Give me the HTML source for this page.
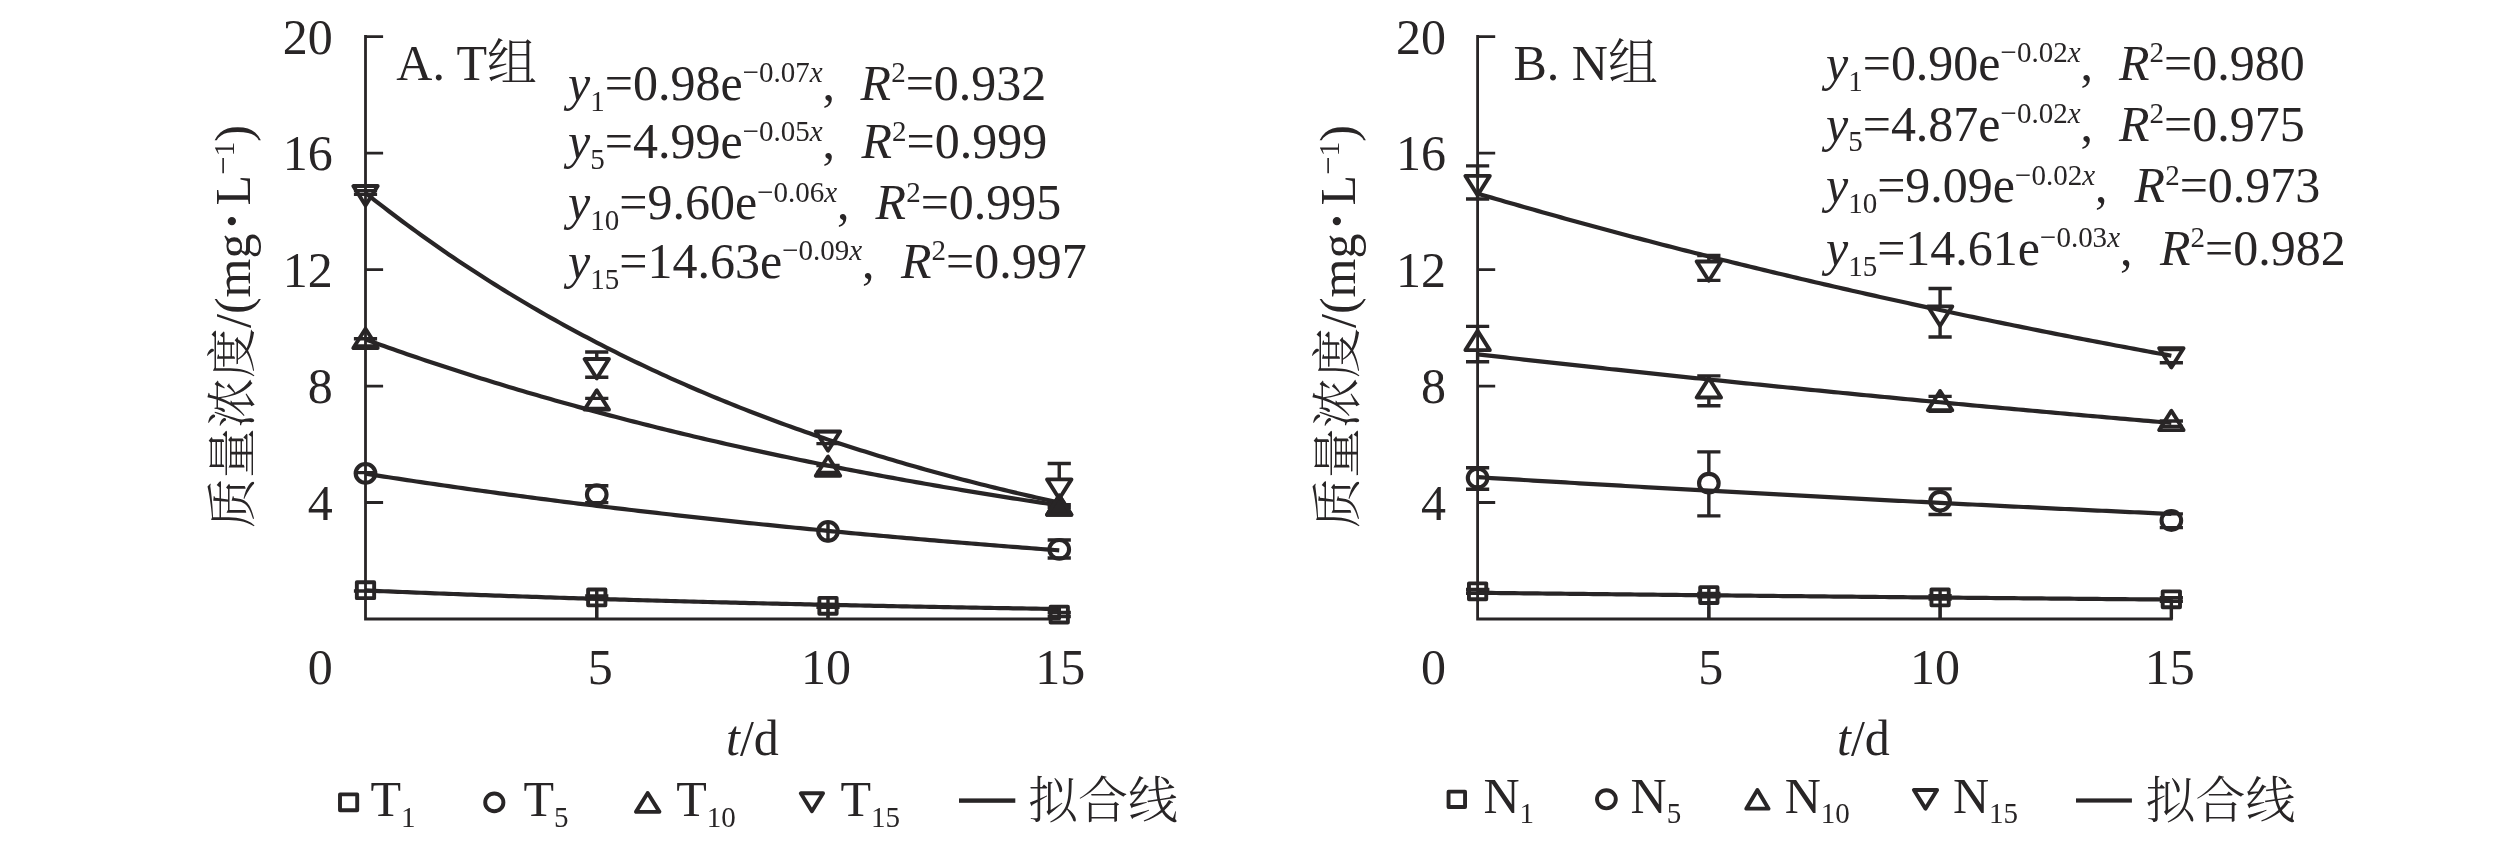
<!DOCTYPE html>
<html><head><meta charset="utf-8"><style>
html,body{margin:0;padding:0;background:#fff;}
svg{display:block;will-change:transform;}
text{font-family:'Liberation Serif','Times New Roman',serif;font-size:50px;fill:#282526;}
</style></head><body>
<svg width="2520" height="842" viewBox="0 0 2520 842">
<rect width="2520" height="842" fill="#fff"/>
<path d="M365.50,36.5V619.0H1059.25" fill="none" stroke="#282526" stroke-width="2.8" stroke-linejoin="miter" stroke-linecap="square"/><path d="M365.50,36.60H383.10M365.50,153.08H383.10M365.50,269.56H383.10M365.50,386.04H383.10M365.50,502.52H383.10M596.75,619.0V607.00M828.00,619.0V607.00M1059.25,619.0V607.00" fill="none" stroke="#282526" stroke-width="2.8"/><polyline points="365.50,590.46 370.12,590.66 374.75,590.86 379.38,591.06 384.00,591.25 388.62,591.44 393.25,591.64 397.88,591.83 402.50,592.02 407.12,592.20 411.75,592.39 416.38,592.58 421.00,592.76 425.62,592.94 430.25,593.13 434.88,593.31 439.50,593.49 444.12,593.66 448.75,593.84 453.38,594.02 458.00,594.19 462.62,594.36 467.25,594.54 471.88,594.71 476.50,594.88 481.12,595.04 485.75,595.21 490.38,595.38 495.00,595.54 499.62,595.71 504.25,595.87 508.88,596.03 513.50,596.19 518.12,596.35 522.75,596.51 527.38,596.66 532.00,596.82 536.62,596.97 541.25,597.13 545.88,597.28 550.50,597.43 555.12,597.58 559.75,597.73 564.38,597.88 569.00,598.03 573.62,598.17 578.25,598.32 582.88,598.46 587.50,598.61 592.12,598.75 596.75,598.89 601.38,599.03 606.00,599.17 610.62,599.31 615.25,599.45 619.88,599.58 624.50,599.72 629.12,599.85 633.75,599.99 638.38,600.12 643.00,600.25 647.62,600.38 652.25,600.51 656.88,600.64 661.50,600.77 666.12,600.89 670.75,601.02 675.38,601.15 680.00,601.27 684.62,601.39 689.25,601.52 693.88,601.64 698.50,601.76 703.12,601.88 707.75,602.00 712.38,602.12 717.00,602.24 721.62,602.35 726.25,602.47 730.88,602.58 735.50,602.70 740.12,602.81 744.75,602.93 749.38,603.04 754.00,603.15 758.62,603.26 763.25,603.37 767.88,603.48 772.50,603.59 777.12,603.69 781.75,603.80 786.38,603.91 791.00,604.01 795.62,604.12 800.25,604.22 804.88,604.32 809.50,604.43 814.12,604.53 818.75,604.63 823.38,604.73 828.00,604.83 832.62,604.93 837.25,605.03 841.88,605.12 846.50,605.22 851.12,605.32 855.75,605.41 860.38,605.51 865.00,605.60 869.62,605.69 874.25,605.79 878.88,605.88 883.50,605.97 888.12,606.06 892.75,606.15 897.38,606.24 902.00,606.33 906.62,606.42 911.25,606.51 915.88,606.59 920.50,606.68 925.12,606.77 929.75,606.85 934.38,606.94 939.00,607.02 943.62,607.10 948.25,607.19 952.88,607.27 957.50,607.35 962.12,607.43 966.75,607.51 971.38,607.59 976.00,607.67 980.62,607.75 985.25,607.83 989.88,607.91 994.50,607.99 999.12,608.06 1003.75,608.14 1008.38,608.21 1013.00,608.29 1017.62,608.36 1022.25,608.44 1026.88,608.51 1031.50,608.59 1036.12,608.66 1040.75,608.73 1045.38,608.80 1050.00,608.87 1054.62,608.94 1059.25,609.01" fill="none" stroke="#282526" stroke-width="4.2" stroke-linejoin="round"/><polyline points="365.50,473.69 370.12,474.42 374.75,475.14 379.38,475.85 384.00,476.57 388.62,477.28 393.25,477.99 397.88,478.69 402.50,479.39 407.12,480.09 411.75,480.78 416.38,481.47 421.00,482.15 425.62,482.84 430.25,483.51 434.88,484.19 439.50,484.86 444.12,485.53 448.75,486.20 453.38,486.86 458.00,487.52 462.62,488.17 467.25,488.83 471.88,489.48 476.50,490.12 481.12,490.77 485.75,491.41 490.38,492.04 495.00,492.67 499.62,493.30 504.25,493.93 508.88,494.56 513.50,495.18 518.12,495.79 522.75,496.41 527.38,497.02 532.00,497.63 536.62,498.23 541.25,498.84 545.88,499.43 550.50,500.03 555.12,500.62 559.75,501.21 564.38,501.80 569.00,502.39 573.62,502.97 578.25,503.55 582.88,504.12 587.50,504.70 592.12,505.27 596.75,505.83 601.38,506.40 606.00,506.96 610.62,507.52 615.25,508.07 619.88,508.63 624.50,509.18 629.12,509.73 633.75,510.27 638.38,510.81 643.00,511.35 647.62,511.89 652.25,512.42 656.88,512.96 661.50,513.48 666.12,514.01 670.75,514.53 675.38,515.06 680.00,515.57 684.62,516.09 689.25,516.60 693.88,517.11 698.50,517.62 703.12,518.13 707.75,518.63 712.38,519.13 717.00,519.63 721.62,520.12 726.25,520.62 730.88,521.11 735.50,521.60 740.12,522.08 744.75,522.57 749.38,523.05 754.00,523.53 758.62,524.00 763.25,524.48 767.88,524.95 772.50,525.42 777.12,525.88 781.75,526.35 786.38,526.81 791.00,527.27 795.62,527.73 800.25,528.18 804.88,528.63 809.50,529.09 814.12,529.53 818.75,529.98 823.38,530.42 828.00,530.87 832.62,531.31 837.25,531.74 841.88,532.18 846.50,532.61 851.12,533.04 855.75,533.47 860.38,533.90 865.00,534.32 869.62,534.74 874.25,535.16 878.88,535.58 883.50,536.00 888.12,536.41 892.75,536.82 897.38,537.23 902.00,537.64 906.62,538.05 911.25,538.45 915.88,538.85 920.50,539.25 925.12,539.65 929.75,540.05 934.38,540.44 939.00,540.83 943.62,541.22 948.25,541.61 952.88,542.00 957.50,542.38 962.12,542.76 966.75,543.14 971.38,543.52 976.00,543.90 980.62,544.27 985.25,544.64 989.88,545.02 994.50,545.38 999.12,545.75 1003.75,546.12 1008.38,546.48 1013.00,546.84 1017.62,547.20 1022.25,547.56 1026.88,547.92 1031.50,548.27 1036.12,548.62 1040.75,548.97 1045.38,549.32 1050.00,549.67 1054.62,550.02 1059.25,550.36" fill="none" stroke="#282526" stroke-width="4.2" stroke-linejoin="round"/><polyline points="365.50,339.45 370.12,341.12 374.75,342.78 379.38,344.43 384.00,346.08 388.62,347.71 393.25,349.33 397.88,350.95 402.50,352.55 407.12,354.14 411.75,355.73 416.38,357.30 421.00,358.87 425.62,360.42 430.25,361.97 434.88,363.51 439.50,365.04 444.12,366.56 448.75,368.07 453.38,369.57 458.00,371.06 462.62,372.54 467.25,374.02 471.88,375.48 476.50,376.94 481.12,378.39 485.75,379.83 490.38,381.26 495.00,382.68 499.62,384.09 504.25,385.50 508.88,386.90 513.50,388.28 518.12,389.66 522.75,391.04 527.38,392.40 532.00,393.76 536.62,395.10 541.25,396.44 545.88,397.77 550.50,399.10 555.12,400.41 559.75,401.72 564.38,403.02 569.00,404.31 573.62,405.60 578.25,406.87 582.88,408.14 587.50,409.40 592.12,410.66 596.75,411.90 601.38,413.14 606.00,414.37 610.62,415.60 615.25,416.81 619.88,418.02 624.50,419.23 629.12,420.42 633.75,421.61 638.38,422.79 643.00,423.96 647.62,425.13 652.25,426.29 656.88,427.44 661.50,428.59 666.12,429.73 670.75,430.86 675.38,431.99 680.00,433.10 684.62,434.22 689.25,435.32 693.88,436.42 698.50,437.51 703.12,438.60 707.75,439.68 712.38,440.75 717.00,441.82 721.62,442.88 726.25,443.93 730.88,444.98 735.50,446.02 740.12,447.05 744.75,448.08 749.38,449.10 754.00,450.12 758.62,451.13 763.25,452.13 767.88,453.13 772.50,454.12 777.12,455.11 781.75,456.09 786.38,457.07 791.00,458.03 795.62,459.00 800.25,459.95 804.88,460.91 809.50,461.85 814.12,462.79 818.75,463.73 823.38,464.66 828.00,465.58 832.62,466.50 837.25,467.41 841.88,468.32 846.50,469.22 851.12,470.11 855.75,471.00 860.38,471.89 865.00,472.77 869.62,473.64 874.25,474.51 878.88,475.38 883.50,476.24 888.12,477.09 892.75,477.94 897.38,478.78 902.00,479.62 906.62,480.46 911.25,481.28 915.88,482.11 920.50,482.93 925.12,483.74 929.75,484.55 934.38,485.35 939.00,486.15 943.62,486.95 948.25,487.74 952.88,488.52 957.50,489.30 962.12,490.08 966.75,490.85 971.38,491.62 976.00,492.38 980.62,493.14 985.25,493.89 989.88,494.64 994.50,495.38 999.12,496.12 1003.75,496.86 1008.38,497.59 1013.00,498.31 1017.62,499.04 1022.25,499.75 1026.88,500.47 1031.50,501.18 1036.12,501.88 1040.75,502.58 1045.38,503.28 1050.00,503.97 1054.62,504.66 1059.25,505.34" fill="none" stroke="#282526" stroke-width="4.2" stroke-linejoin="round"/><polyline points="365.50,192.97 370.12,196.64 374.75,200.28 379.38,203.89 384.00,207.46 388.62,211.01 393.25,214.52 397.88,218.00 402.50,221.46 407.12,224.88 411.75,228.28 416.38,231.64 421.00,234.98 425.62,238.29 430.25,241.56 434.88,244.82 439.50,248.04 444.12,251.23 448.75,254.40 453.38,257.54 458.00,260.65 462.62,263.74 467.25,266.80 471.88,269.83 476.50,272.84 481.12,275.82 485.75,278.78 490.38,281.71 495.00,284.61 499.62,287.49 504.25,290.35 508.88,293.18 513.50,295.98 518.12,298.77 522.75,301.52 527.38,304.26 532.00,306.97 536.62,309.66 541.25,312.32 545.88,314.96 550.50,317.58 555.12,320.18 559.75,322.75 564.38,325.30 569.00,327.83 573.62,330.34 578.25,332.83 582.88,335.29 587.50,337.73 592.12,340.16 596.75,342.56 601.38,344.94 606.00,347.30 610.62,349.64 615.25,351.96 619.88,354.26 624.50,356.54 629.12,358.80 633.75,361.04 638.38,363.26 643.00,365.47 647.62,367.65 652.25,369.81 656.88,371.96 661.50,374.09 666.12,376.20 670.75,378.29 675.38,380.36 680.00,382.42 684.62,384.45 689.25,386.47 693.88,388.48 698.50,390.46 703.12,392.43 707.75,394.38 712.38,396.32 717.00,398.23 721.62,400.14 726.25,402.02 730.88,403.89 735.50,405.74 740.12,407.58 744.75,409.40 749.38,411.21 754.00,413.00 758.62,414.77 763.25,416.53 767.88,418.27 772.50,420.00 777.12,421.71 781.75,423.41 786.38,425.10 791.00,426.77 795.62,428.42 800.25,430.07 804.88,431.69 809.50,433.31 814.12,434.91 818.75,436.49 823.38,438.06 828.00,439.62 832.62,441.17 837.25,442.70 841.88,444.22 846.50,445.72 851.12,447.21 855.75,448.69 860.38,450.16 865.00,451.61 869.62,453.06 874.25,454.49 878.88,455.90 883.50,457.31 888.12,458.70 892.75,460.08 897.38,461.45 902.00,462.81 906.62,464.15 911.25,465.48 915.88,466.81 920.50,468.12 925.12,469.42 929.75,470.71 934.38,471.98 939.00,473.25 943.62,474.50 948.25,475.75 952.88,476.98 957.50,478.21 962.12,479.42 966.75,480.62 971.38,481.81 976.00,482.99 980.62,484.17 985.25,485.33 989.88,486.48 994.50,487.62 999.12,488.75 1003.75,489.87 1008.38,490.98 1013.00,492.09 1017.62,493.18 1022.25,494.26 1026.88,495.34 1031.50,496.40 1036.12,497.46 1040.75,498.51 1045.38,499.54 1050.00,500.57 1054.62,501.59 1059.25,502.60" fill="none" stroke="#282526" stroke-width="4.2" stroke-linejoin="round"/><g fill="none" stroke="#282526" stroke-width="3.4"><path d="M596.75,596.00V598.80M585.15,596.00H608.35M585.15,598.80H608.35"/><path d="M828.00,604.40V607.20M816.40,604.40H839.60M816.40,607.20H839.60"/><path d="M1059.25,612.50V616.50M1047.65,612.50H1070.85M1047.65,616.50H1070.85"/><path d="M353.90,472.60H377.10M353.90,472.60H377.10"/><path d="M585.15,485.80H608.35M585.15,502.60H608.35"/><path d="M1059.25,540.00V540.05M1047.65,540.00H1070.85M1047.65,558.00H1070.85"/><path d="M353.90,338.80H377.10M353.90,346.00H377.10"/><path d="M585.15,398.40H608.35M585.15,408.40H608.35"/><path d="M816.40,465.50H839.60M816.40,472.50H839.60"/><path d="M1047.65,504.60H1070.85M1047.65,512.00H1070.85"/><path d="M353.90,190.60H377.10M353.90,194.40H377.10"/><path d="M596.75,352.00V359.07M585.15,352.00H608.35M585.15,377.30H608.35"/><path d="M816.40,431.80H839.60M816.40,443.60H839.60"/><path d="M1059.25,463.50V479.37M1059.25,498.67V507.50M1047.65,463.50H1070.85M1047.65,507.50H1070.85"/></g><g fill="none" stroke="#282526" stroke-width="3.9" stroke-linejoin="round"><rect x="356.85" y="582.25" width="17.3" height="15.9"/><rect x="588.10" y="589.45" width="17.3" height="15.9"/><rect x="819.35" y="597.85" width="17.3" height="15.9"/><rect x="1050.60" y="606.65" width="17.3" height="15.9"/><ellipse cx="365.50" cy="473.40" rx="9.8" ry="9.35" stroke-width="4.1"/><ellipse cx="596.75" cy="494.60" rx="9.8" ry="9.35" stroke-width="4.1"/><ellipse cx="828.00" cy="531.30" rx="9.8" ry="9.35" stroke-width="4.1"/><ellipse cx="1059.25" cy="549.40" rx="9.8" ry="9.35" stroke-width="4.1"/><path d="M353.30,348.03L377.70,348.03L365.50,328.73Z"/><path d="M584.55,409.63L608.95,409.63L596.75,390.33Z"/><path d="M815.80,475.83L840.20,475.83L828.00,456.53Z"/><path d="M1047.05,514.73L1071.45,514.73L1059.25,495.43Z"/><path d="M353.30,186.07L377.70,186.07L365.50,205.37Z"/><path d="M584.55,359.07L608.95,359.07L596.75,378.37Z"/><path d="M815.80,431.37L840.20,431.37L828.00,450.67Z"/><path d="M1047.05,479.37L1071.45,479.37L1059.25,498.67Z"/></g><path d="M1047.05,514.73L1071.45,514.73L1059.25,495.43Z" fill="#282526" stroke="#282526" stroke-width="3.9" stroke-linejoin="round"/><path d="M596.75,587.95V619.0M828.00,596.85V619.0M1059.25,605.65V619.0M353.90,591.00H377.10M828.00,521.95V542.15" stroke="#282526" stroke-width="3.4" fill="none"/><text x="332.80" y="53.90" text-anchor="end" transform="matrix(1,0,0,1.02,0,-1.078)">20</text><text x="332.80" y="170.38" text-anchor="end" transform="matrix(1,0,0,1.02,0,-3.408)">16</text><text x="332.80" y="286.86" text-anchor="end" transform="matrix(1,0,0,1.02,0,-5.737)">12</text><text x="332.80" y="403.34" text-anchor="end" transform="matrix(1,0,0,1.02,0,-8.067)">8</text><text x="332.80" y="519.82" text-anchor="end" transform="matrix(1,0,0,1.02,0,-10.396)">4</text><text x="332.80" y="684.3" text-anchor="end" transform="matrix(1,0,0,1.02,0,-13.686)">0</text><text x="600.25" y="684.3" text-anchor="middle" transform="matrix(1,0,0,1.02,0,-13.686)">5</text><text x="826.00" y="684.3" text-anchor="middle" transform="matrix(1,0,0,1.02,0,-13.686)">10</text><text x="1060.25" y="684.3" text-anchor="middle" transform="matrix(1,0,0,1.02,0,-13.686)">15</text><text x="396.30" y="80.2" style="font-family:'Liberation Serif','Noto Serif CJK SC',serif;font-weight:300">A. T组</text><text x="568.10" y="100.00" transform="matrix(1,0,0,1.03,0,-3.000)"><tspan font-style="italic">y</tspan><tspan font-size="29" dy="10.5">1</tspan><tspan dy="-10.5">=0.98e</tspan><tspan font-size="29" dy="-17">−0.07<tspan font-style="italic">x</tspan></tspan><tspan dy="17">,</tspan></text><text x="860.60" y="100.00" transform="matrix(1,0,0,1.03,0,-3.000)"><tspan font-style="italic">R</tspan><tspan font-size="29" dy="-17">2</tspan><tspan dy="17">=0.932</tspan></text><text x="568.10" y="158.30" transform="matrix(1,0,0,1.03,0,-4.749)"><tspan font-style="italic">y</tspan><tspan font-size="29" dy="10.5">5</tspan><tspan dy="-10.5">=4.99e</tspan><tspan font-size="29" dy="-17">−0.05<tspan font-style="italic">x</tspan></tspan><tspan dy="17">,</tspan></text><text x="861.40" y="158.30" transform="matrix(1,0,0,1.03,0,-4.749)"><tspan font-style="italic">R</tspan><tspan font-size="29" dy="-17">2</tspan><tspan dy="17">=0.999</tspan></text><text x="568.10" y="219.10" transform="matrix(1,0,0,1.03,0,-6.573)"><tspan font-style="italic">y</tspan><tspan font-size="29" dy="10.5">10</tspan><tspan dy="-10.5">=9.60e</tspan><tspan font-size="29" dy="-17">−0.06<tspan font-style="italic">x</tspan></tspan><tspan dy="17">,</tspan></text><text x="875.60" y="219.10" transform="matrix(1,0,0,1.03,0,-6.573)"><tspan font-style="italic">R</tspan><tspan font-size="29" dy="-17">2</tspan><tspan dy="17">=0.995</tspan></text><text x="568.10" y="278.00" transform="matrix(1,0,0,1.03,0,-8.340)"><tspan font-style="italic">y</tspan><tspan font-size="29" dy="10.5">15</tspan><tspan dy="-10.5">=14.63e</tspan><tspan font-size="29" dy="-17">−0.09<tspan font-style="italic">x</tspan></tspan><tspan dy="17">,</tspan></text><text x="901.00" y="278.00" transform="matrix(1,0,0,1.03,0,-8.340)"><tspan font-style="italic">R</tspan><tspan font-size="29" dy="-17">2</tspan><tspan dy="17">=0.997</tspan></text><text x="726.00" y="755.3"><tspan font-style="italic">t</tspan>/d</text><text transform="translate(249.9,528.0) rotate(-90)" x="0" y="0" style="font-family:'Liberation Serif','Noto Serif CJK SC',serif;font-weight:300">质量浓度/(mg<tspan dx="0.8" font-family="Liberation Serif" font-size="70" dy="5.5">·</tspan><tspan dx="4.0" dy="-5.5">L</tspan><tspan dy="-16" font-size="33">−</tspan><tspan font-size="29">1</tspan><tspan dy="16">)</tspan></text><g fill="none" stroke="#282526" stroke-width="3.9" stroke-linejoin="round"><rect x="340.00" y="794.40" width="17.20" height="15.80"/></g><text x="370.40" y="816.20">T<tspan font-size="29" dy="10.5">1</tspan></text><g fill="none" stroke="#282526" stroke-width="3.9" stroke-linejoin="round"><ellipse cx="494.30" cy="802.40" rx="9.10" ry="8.85"/></g><text x="523.50" y="816.20">T<tspan font-size="29" dy="10.5">5</tspan></text><g fill="none" stroke="#282526" stroke-width="3.9" stroke-linejoin="round"><path d="M635.95,811.85L659.45,811.85L647.70,792.95Z"/></g><text x="676.30" y="816.20">T<tspan font-size="29" dy="10.5">10</tspan></text><g fill="none" stroke="#282526" stroke-width="3.9" stroke-linejoin="round"><path d="M800.75,793.30L823.05,793.30L811.90,811.30Z"/></g><text x="840.40" y="816.20">T<tspan font-size="29" dy="10.5">15</tspan></text><rect x="959" y="798.4" width="56.3" height="4.4" fill="#282526"/><text x="1028" y="817.5" style="font-family:'Liberation Serif','Noto Serif CJK SC',serif;font-weight:300">拟合线</text><path d="M1477.60,36.5V619.0H2171.35" fill="none" stroke="#282526" stroke-width="2.8" stroke-linejoin="miter" stroke-linecap="square"/><path d="M1477.60,36.60H1495.20M1477.60,153.08H1495.20M1477.60,269.56H1495.20M1477.60,386.04H1495.20M1477.60,502.52H1495.20M1708.85,619.0V607.00M1940.10,619.0V607.00M2171.35,619.0V607.00" fill="none" stroke="#282526" stroke-width="2.8"/><polyline points="1477.60,592.79 1482.22,592.84 1486.85,592.90 1491.47,592.95 1496.10,593.00 1500.72,593.05 1505.35,593.10 1509.97,593.16 1514.60,593.21 1519.22,593.26 1523.85,593.31 1528.47,593.36 1533.10,593.41 1537.72,593.46 1542.35,593.52 1546.97,593.57 1551.60,593.62 1556.22,593.67 1560.85,593.72 1565.47,593.77 1570.10,593.82 1574.72,593.87 1579.35,593.92 1583.97,593.97 1588.60,594.02 1593.22,594.07 1597.85,594.12 1602.47,594.17 1607.10,594.22 1611.72,594.27 1616.35,594.32 1620.97,594.37 1625.60,594.42 1630.22,594.47 1634.85,594.51 1639.47,594.56 1644.10,594.61 1648.72,594.66 1653.35,594.71 1657.97,594.76 1662.60,594.81 1667.22,594.86 1671.85,594.90 1676.47,594.95 1681.10,595.00 1685.72,595.05 1690.35,595.10 1694.97,595.14 1699.60,595.19 1704.22,595.24 1708.85,595.29 1713.47,595.33 1718.10,595.38 1722.72,595.43 1727.35,595.47 1731.97,595.52 1736.60,595.57 1741.22,595.62 1745.85,595.66 1750.47,595.71 1755.10,595.76 1759.72,595.80 1764.35,595.85 1768.97,595.89 1773.60,595.94 1778.22,595.99 1782.85,596.03 1787.47,596.08 1792.10,596.12 1796.72,596.17 1801.35,596.22 1805.97,596.26 1810.60,596.31 1815.22,596.35 1819.85,596.40 1824.47,596.44 1829.10,596.49 1833.72,596.53 1838.35,596.58 1842.97,596.62 1847.60,596.67 1852.22,596.71 1856.85,596.76 1861.47,596.80 1866.10,596.84 1870.72,596.89 1875.35,596.93 1879.97,596.98 1884.60,597.02 1889.22,597.07 1893.85,597.11 1898.47,597.15 1903.10,597.20 1907.72,597.24 1912.35,597.28 1916.97,597.33 1921.60,597.37 1926.22,597.41 1930.85,597.46 1935.47,597.50 1940.10,597.54 1944.72,597.59 1949.35,597.63 1953.97,597.67 1958.60,597.71 1963.22,597.76 1967.85,597.80 1972.47,597.84 1977.10,597.88 1981.72,597.93 1986.35,597.97 1990.97,598.01 1995.60,598.05 2000.22,598.09 2004.85,598.14 2009.47,598.18 2014.10,598.22 2018.72,598.26 2023.35,598.30 2027.97,598.34 2032.60,598.38 2037.22,598.43 2041.85,598.47 2046.47,598.51 2051.10,598.55 2055.72,598.59 2060.35,598.63 2064.97,598.67 2069.60,598.71 2074.22,598.75 2078.85,598.79 2083.47,598.83 2088.10,598.87 2092.72,598.91 2097.35,598.95 2101.97,598.99 2106.60,599.03 2111.22,599.07 2115.85,599.11 2120.47,599.15 2125.10,599.19 2129.72,599.23 2134.35,599.27 2138.97,599.31 2143.60,599.35 2148.22,599.39 2152.85,599.43 2157.47,599.47 2162.10,599.51 2166.72,599.55 2171.35,599.58" fill="none" stroke="#282526" stroke-width="4.2" stroke-linejoin="round"/><polyline points="1477.60,477.19 1482.22,477.47 1486.85,477.75 1491.47,478.03 1496.10,478.32 1500.72,478.60 1505.35,478.88 1509.97,479.16 1514.60,479.44 1519.22,479.72 1523.85,479.99 1528.47,480.27 1533.10,480.55 1537.72,480.83 1542.35,481.10 1546.97,481.38 1551.60,481.65 1556.22,481.93 1560.85,482.20 1565.47,482.47 1570.10,482.75 1574.72,483.02 1579.35,483.29 1583.97,483.56 1588.60,483.83 1593.22,484.10 1597.85,484.37 1602.47,484.64 1607.10,484.91 1611.72,485.18 1616.35,485.44 1620.97,485.71 1625.60,485.98 1630.22,486.24 1634.85,486.51 1639.47,486.77 1644.10,487.04 1648.72,487.30 1653.35,487.56 1657.97,487.83 1662.60,488.09 1667.22,488.35 1671.85,488.61 1676.47,488.87 1681.10,489.13 1685.72,489.39 1690.35,489.65 1694.97,489.91 1699.60,490.17 1704.22,490.42 1708.85,490.68 1713.47,490.94 1718.10,491.19 1722.72,491.45 1727.35,491.70 1731.97,491.96 1736.60,492.21 1741.22,492.46 1745.85,492.72 1750.47,492.97 1755.10,493.22 1759.72,493.47 1764.35,493.72 1768.97,493.97 1773.60,494.22 1778.22,494.47 1782.85,494.72 1787.47,494.97 1792.10,495.22 1796.72,495.47 1801.35,495.71 1805.97,495.96 1810.60,496.20 1815.22,496.45 1819.85,496.69 1824.47,496.94 1829.10,497.18 1833.72,497.43 1838.35,497.67 1842.97,497.91 1847.60,498.15 1852.22,498.40 1856.85,498.64 1861.47,498.88 1866.10,499.12 1870.72,499.36 1875.35,499.60 1879.97,499.83 1884.60,500.07 1889.22,500.31 1893.85,500.55 1898.47,500.78 1903.10,501.02 1907.72,501.26 1912.35,501.49 1916.97,501.73 1921.60,501.96 1926.22,502.19 1930.85,502.43 1935.47,502.66 1940.10,502.89 1944.72,503.12 1949.35,503.36 1953.97,503.59 1958.60,503.82 1963.22,504.05 1967.85,504.28 1972.47,504.51 1977.10,504.74 1981.72,504.96 1986.35,505.19 1990.97,505.42 1995.60,505.65 2000.22,505.87 2004.85,506.10 2009.47,506.32 2014.10,506.55 2018.72,506.77 2023.35,507.00 2027.97,507.22 2032.60,507.44 2037.22,507.67 2041.85,507.89 2046.47,508.11 2051.10,508.33 2055.72,508.55 2060.35,508.78 2064.97,509.00 2069.60,509.22 2074.22,509.43 2078.85,509.65 2083.47,509.87 2088.10,510.09 2092.72,510.31 2097.35,510.53 2101.97,510.74 2106.60,510.96 2111.22,511.17 2115.85,511.39 2120.47,511.60 2125.10,511.82 2129.72,512.03 2134.35,512.25 2138.97,512.46 2143.60,512.67 2148.22,512.89 2152.85,513.10 2157.47,513.31 2162.10,513.52 2166.72,513.73 2171.35,513.94" fill="none" stroke="#282526" stroke-width="4.2" stroke-linejoin="round"/><polyline points="1477.60,354.30 1482.22,354.83 1486.85,355.36 1491.47,355.88 1496.10,356.41 1500.72,356.93 1505.35,357.46 1509.97,357.98 1514.60,358.50 1519.22,359.02 1523.85,359.54 1528.47,360.06 1533.10,360.58 1537.72,361.09 1542.35,361.61 1546.97,362.12 1551.60,362.64 1556.22,363.15 1560.85,363.66 1565.47,364.17 1570.10,364.68 1574.72,365.19 1579.35,365.69 1583.97,366.20 1588.60,366.70 1593.22,367.21 1597.85,367.71 1602.47,368.21 1607.10,368.72 1611.72,369.22 1616.35,369.71 1620.97,370.21 1625.60,370.71 1630.22,371.21 1634.85,371.70 1639.47,372.19 1644.10,372.69 1648.72,373.18 1653.35,373.67 1657.97,374.16 1662.60,374.65 1667.22,375.14 1671.85,375.63 1676.47,376.11 1681.10,376.60 1685.72,377.08 1690.35,377.57 1694.97,378.05 1699.60,378.53 1704.22,379.01 1708.85,379.49 1713.47,379.97 1718.10,380.44 1722.72,380.92 1727.35,381.40 1731.97,381.87 1736.60,382.35 1741.22,382.82 1745.85,383.29 1750.47,383.76 1755.10,384.23 1759.72,384.70 1764.35,385.17 1768.97,385.64 1773.60,386.10 1778.22,386.57 1782.85,387.03 1787.47,387.50 1792.10,387.96 1796.72,388.42 1801.35,388.88 1805.97,389.34 1810.60,389.80 1815.22,390.26 1819.85,390.71 1824.47,391.17 1829.10,391.63 1833.72,392.08 1838.35,392.53 1842.97,392.99 1847.60,393.44 1852.22,393.89 1856.85,394.34 1861.47,394.79 1866.10,395.23 1870.72,395.68 1875.35,396.13 1879.97,396.57 1884.60,397.02 1889.22,397.46 1893.85,397.90 1898.47,398.35 1903.10,398.79 1907.72,399.23 1912.35,399.67 1916.97,400.10 1921.60,400.54 1926.22,400.98 1930.85,401.41 1935.47,401.85 1940.10,402.28 1944.72,402.71 1949.35,403.15 1953.97,403.58 1958.60,404.01 1963.22,404.44 1967.85,404.87 1972.47,405.29 1977.10,405.72 1981.72,406.15 1986.35,406.57 1990.97,407.00 1995.60,407.42 2000.22,407.84 2004.85,408.27 2009.47,408.69 2014.10,409.11 2018.72,409.53 2023.35,409.94 2027.97,410.36 2032.60,410.78 2037.22,411.20 2041.85,411.61 2046.47,412.02 2051.10,412.44 2055.72,412.85 2060.35,413.26 2064.97,413.67 2069.60,414.08 2074.22,414.49 2078.85,414.90 2083.47,415.31 2088.10,415.72 2092.72,416.12 2097.35,416.53 2101.97,416.93 2106.60,417.34 2111.22,417.74 2115.85,418.14 2120.47,418.54 2125.10,418.94 2129.72,419.34 2134.35,419.74 2138.97,420.14 2143.60,420.54 2148.22,420.93 2152.85,421.33 2157.47,421.72 2162.10,422.12 2166.72,422.51 2171.35,422.90" fill="none" stroke="#282526" stroke-width="4.2" stroke-linejoin="round"/><polyline points="1477.60,193.56 1482.22,194.92 1486.85,196.27 1491.47,197.62 1496.10,198.97 1500.72,200.31 1505.35,201.65 1509.97,202.98 1514.60,204.31 1519.22,205.63 1523.85,206.96 1528.47,208.27 1533.10,209.58 1537.72,210.89 1542.35,212.20 1546.97,213.50 1551.60,214.79 1556.22,216.08 1560.85,217.37 1565.47,218.65 1570.10,219.93 1574.72,221.21 1579.35,222.48 1583.97,223.74 1588.60,225.01 1593.22,226.27 1597.85,227.52 1602.47,228.77 1607.10,230.02 1611.72,231.26 1616.35,232.50 1620.97,233.73 1625.60,234.97 1630.22,236.19 1634.85,237.42 1639.47,238.63 1644.10,239.85 1648.72,241.06 1653.35,242.27 1657.97,243.47 1662.60,244.67 1667.22,245.87 1671.85,247.06 1676.47,248.25 1681.10,249.43 1685.72,250.61 1690.35,251.79 1694.97,252.96 1699.60,254.13 1704.22,255.30 1708.85,256.46 1713.47,257.62 1718.10,258.77 1722.72,259.92 1727.35,261.07 1731.97,262.22 1736.60,263.36 1741.22,264.49 1745.85,265.62 1750.47,266.75 1755.10,267.88 1759.72,269.00 1764.35,270.12 1768.97,271.23 1773.60,272.34 1778.22,273.45 1782.85,274.56 1787.47,275.66 1792.10,276.75 1796.72,277.85 1801.35,278.94 1805.97,280.02 1810.60,281.11 1815.22,282.19 1819.85,283.26 1824.47,284.33 1829.10,285.40 1833.72,286.47 1838.35,287.53 1842.97,288.59 1847.60,289.65 1852.22,290.70 1856.85,291.75 1861.47,292.79 1866.10,293.84 1870.72,294.87 1875.35,295.91 1879.97,296.94 1884.60,297.97 1889.22,299.00 1893.85,300.02 1898.47,301.04 1903.10,302.05 1907.72,303.07 1912.35,304.08 1916.97,305.08 1921.60,306.09 1926.22,307.08 1930.85,308.08 1935.47,309.07 1940.10,310.06 1944.72,311.05 1949.35,312.04 1953.97,313.02 1958.60,313.99 1963.22,314.97 1967.85,315.94 1972.47,316.91 1977.10,317.87 1981.72,318.84 1986.35,319.79 1990.97,320.75 1995.60,321.70 2000.22,322.65 2004.85,323.60 2009.47,324.54 2014.10,325.48 2018.72,326.42 2023.35,327.36 2027.97,328.29 2032.60,329.22 2037.22,330.14 2041.85,331.07 2046.47,331.99 2051.10,332.90 2055.72,333.82 2060.35,334.73 2064.97,335.64 2069.60,336.54 2074.22,337.44 2078.85,338.34 2083.47,339.24 2088.10,340.13 2092.72,341.02 2097.35,341.91 2101.97,342.80 2106.60,343.68 2111.22,344.56 2115.85,345.44 2120.47,346.31 2125.10,347.18 2129.72,348.05 2134.35,348.92 2138.97,349.78 2143.60,350.64 2148.22,351.50 2152.85,352.35 2157.47,353.20 2162.10,354.05 2166.72,354.90 2171.35,355.74" fill="none" stroke="#282526" stroke-width="4.2" stroke-linejoin="round"/><g fill="none" stroke="#282526" stroke-width="3.4"><path d="M1466.00,589.60H1489.20M1466.00,593.20H1489.20"/><path d="M1708.85,593.40V596.80M1697.25,593.40H1720.45M1697.25,596.80H1720.45"/><path d="M1940.10,595.80V599.00M1928.50,595.80H1951.70M1928.50,599.00H1951.70"/><path d="M2159.75,597.60H2182.95M2159.75,601.20H2182.95"/><path d="M1477.60,467.80V468.65M1477.60,487.35V489.20M1466.00,467.80H1489.20M1466.00,489.20H1489.20"/><path d="M1708.85,451.90V473.85M1708.85,492.55V515.90M1697.25,451.90H1720.45M1697.25,515.90H1720.45"/><path d="M1940.10,488.90V491.85M1940.10,510.55V514.50M1928.50,488.90H1951.70M1928.50,514.50H1951.70"/><path d="M2159.75,513.90H2182.95M2159.75,527.60H2182.95"/><path d="M1477.60,326.40V330.83M1477.60,350.13V361.80M1466.00,326.40H1489.20M1466.00,361.80H1489.20"/><path d="M1708.85,375.90V378.13M1708.85,397.43V405.70M1697.25,375.90H1720.45M1697.25,405.70H1720.45"/><path d="M1940.10,410.23V411.20M1928.50,396.40H1951.70M1928.50,411.20H1951.70"/><path d="M2159.75,421.00H2182.95M2159.75,426.40H2182.95"/><path d="M1477.60,165.90V175.87M1477.60,195.17V199.00M1466.00,165.90H1489.20M1466.00,199.00H1489.20"/><path d="M1708.85,255.50V261.47M1697.25,255.50H1720.45M1697.25,280.40H1720.45"/><path d="M1940.10,288.50V306.37M1940.10,325.67V337.00M1928.50,288.50H1951.70M1928.50,337.00H1951.70"/><path d="M2159.75,349.60H2182.95M2159.75,362.70H2182.95"/></g><g fill="none" stroke="#282526" stroke-width="3.9" stroke-linejoin="round"><rect x="1468.95" y="583.35" width="17.3" height="15.9"/><rect x="1700.20" y="587.15" width="17.3" height="15.9"/><rect x="1931.45" y="589.45" width="17.3" height="15.9"/><rect x="2162.70" y="591.35" width="17.3" height="15.9"/><ellipse cx="1477.60" cy="478.00" rx="9.8" ry="9.35" stroke-width="4.1"/><ellipse cx="1708.85" cy="483.20" rx="9.8" ry="9.35" stroke-width="4.1"/><ellipse cx="1940.10" cy="501.20" rx="9.8" ry="9.35" stroke-width="4.1"/><ellipse cx="2171.35" cy="520.50" rx="9.8" ry="9.35" stroke-width="4.1"/><path d="M1465.40,350.13L1489.80,350.13L1477.60,330.83Z"/><path d="M1696.65,397.43L1721.05,397.43L1708.85,378.13Z"/><path d="M1927.90,410.23L1952.30,410.23L1940.10,390.93Z"/><path d="M2159.15,430.13L2183.55,430.13L2171.35,410.83Z"/><path d="M1465.40,175.87L1489.80,175.87L1477.60,195.17Z"/><path d="M1696.65,261.47L1721.05,261.47L1708.85,280.77Z"/><path d="M1927.90,306.37L1952.30,306.37L1940.10,325.67Z"/><path d="M2159.15,348.17L2183.55,348.17L2171.35,367.47Z"/></g><path d="M1708.85,586.15V619.0M1940.10,587.95V619.0M2171.35,599.30V619.0M1466.00,589.40H1489.20M1466.00,593.40H1489.20" stroke="#282526" stroke-width="3.4" fill="none"/><text x="1446.00" y="53.90" text-anchor="end" transform="matrix(1,0,0,1.02,0,-1.078)">20</text><text x="1446.00" y="170.38" text-anchor="end" transform="matrix(1,0,0,1.02,0,-3.408)">16</text><text x="1446.00" y="286.86" text-anchor="end" transform="matrix(1,0,0,1.02,0,-5.737)">12</text><text x="1446.00" y="403.34" text-anchor="end" transform="matrix(1,0,0,1.02,0,-8.067)">8</text><text x="1446.00" y="519.82" text-anchor="end" transform="matrix(1,0,0,1.02,0,-10.396)">4</text><text x="1446.00" y="684.3" text-anchor="end" transform="matrix(1,0,0,1.02,0,-13.686)">0</text><text x="1710.85" y="684.3" text-anchor="middle" transform="matrix(1,0,0,1.02,0,-13.686)">5</text><text x="1935.10" y="684.3" text-anchor="middle" transform="matrix(1,0,0,1.02,0,-13.686)">10</text><text x="2169.85" y="684.3" text-anchor="middle" transform="matrix(1,0,0,1.02,0,-13.686)">15</text><text x="1513.50" y="80.2" style="font-family:'Liberation Serif','Noto Serif CJK SC',serif;font-weight:300">B. N组</text><text x="1826.00" y="80.00" transform="matrix(1,0,0,1.03,0,-2.400)"><tspan font-style="italic">y</tspan><tspan font-size="29" dy="10.5">1</tspan><tspan dy="-10.5">=0.90e</tspan><tspan font-size="29" dy="-17">−0.02<tspan font-style="italic">x</tspan></tspan><tspan dy="17">,</tspan></text><text x="2118.90" y="80.00" transform="matrix(1,0,0,1.03,0,-2.400)"><tspan font-style="italic">R</tspan><tspan font-size="29" dy="-17">2</tspan><tspan dy="17">=0.980</tspan></text><text x="1826.00" y="140.60" transform="matrix(1,0,0,1.03,0,-4.218)"><tspan font-style="italic">y</tspan><tspan font-size="29" dy="10.5">5</tspan><tspan dy="-10.5">=4.87e</tspan><tspan font-size="29" dy="-17">−0.02<tspan font-style="italic">x</tspan></tspan><tspan dy="17">,</tspan></text><text x="2118.90" y="140.60" transform="matrix(1,0,0,1.03,0,-4.218)"><tspan font-style="italic">R</tspan><tspan font-size="29" dy="-17">2</tspan><tspan dy="17">=0.975</tspan></text><text x="1826.00" y="202.30" transform="matrix(1,0,0,1.03,0,-6.069)"><tspan font-style="italic">y</tspan><tspan font-size="29" dy="10.5">10</tspan><tspan dy="-10.5">=9.09e</tspan><tspan font-size="29" dy="-17">−0.02<tspan font-style="italic">x</tspan></tspan><tspan dy="17">,</tspan></text><text x="2134.60" y="202.30" transform="matrix(1,0,0,1.03,0,-6.069)"><tspan font-style="italic">R</tspan><tspan font-size="29" dy="-17">2</tspan><tspan dy="17">=0.973</tspan></text><text x="1826.00" y="264.80" transform="matrix(1,0,0,1.03,0,-7.944)"><tspan font-style="italic">y</tspan><tspan font-size="29" dy="10.5">15</tspan><tspan dy="-10.5">=14.61e</tspan><tspan font-size="29" dy="-17">−0.03<tspan font-style="italic">x</tspan></tspan><tspan dy="17">,</tspan></text><text x="2159.90" y="264.80" transform="matrix(1,0,0,1.03,0,-7.944)"><tspan font-style="italic">R</tspan><tspan font-size="29" dy="-17">2</tspan><tspan dy="17">=0.982</tspan></text><text x="1837.00" y="755.3"><tspan font-style="italic">t</tspan>/d</text><text transform="translate(1354.9,528.0) rotate(-90)" x="0" y="0" style="font-family:'Liberation Serif','Noto Serif CJK SC',serif;font-weight:300">质量浓度/(mg<tspan dx="0.8" font-family="Liberation Serif" font-size="70" dy="5.5">·</tspan><tspan dx="4.0" dy="-5.5">L</tspan><tspan dy="-16" font-size="33">−</tspan><tspan font-size="29">1</tspan><tspan dy="16">)</tspan></text><g fill="none" stroke="#282526" stroke-width="3.9" stroke-linejoin="round"><rect x="1448.55" y="791.65" width="16.50" height="15.30"/></g><text x="1483.50" y="812.70">N<tspan font-size="29" dy="10.5">1</tspan></text><g fill="none" stroke="#282526" stroke-width="3.9" stroke-linejoin="round"><ellipse cx="1606.40" cy="799.30" rx="9.40" ry="9.05"/></g><text x="1630.60" y="812.70">N<tspan font-size="29" dy="10.5">5</tspan></text><g fill="none" stroke="#282526" stroke-width="3.9" stroke-linejoin="round"><path d="M1746.25,808.65L1768.55,808.65L1757.40,789.95Z"/></g><text x="1784.70" y="812.70">N<tspan font-size="29" dy="10.5">10</tspan></text><g fill="none" stroke="#282526" stroke-width="3.9" stroke-linejoin="round"><path d="M1913.90,789.95L1937.10,789.95L1925.50,808.65Z"/></g><text x="1952.90" y="812.70">N<tspan font-size="29" dy="10.5">15</tspan></text><rect x="2076" y="798.4" width="55.9" height="4.2" fill="#282526"/><text x="2145.5" y="817.5" style="font-family:'Liberation Serif','Noto Serif CJK SC',serif;font-weight:300">拟合线</text>
</svg></body></html>
